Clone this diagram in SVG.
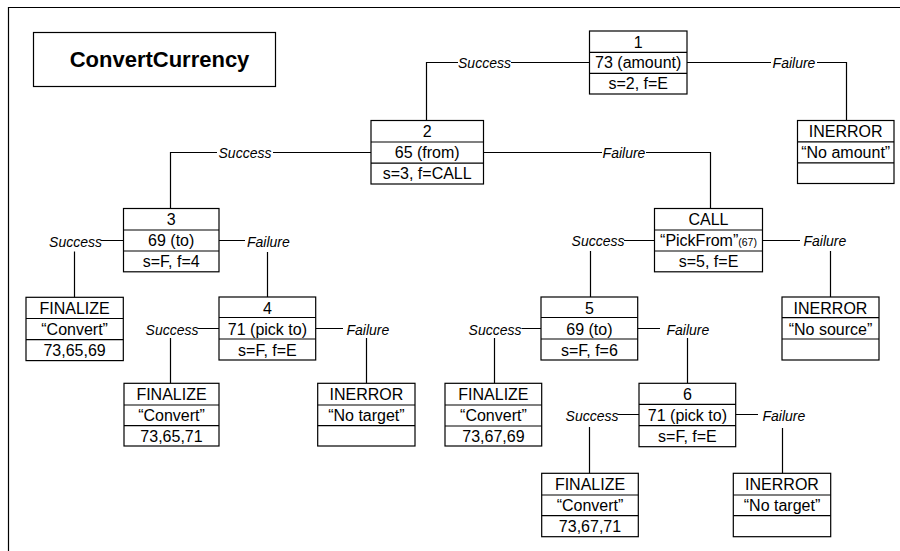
<svg xmlns="http://www.w3.org/2000/svg" width="900" height="551" viewBox="0 0 900 551">
<style>
.box{fill:#fff;stroke:#000;stroke-width:1.2}
.row{stroke:#000;stroke-width:1.2}
.t{font-family:"Liberation Sans",Arial,sans-serif;font-size:16px;fill:#000;text-anchor:middle}
.lbl{font-family:"Liberation Sans",Arial,sans-serif;font-size:14px;font-style:italic;fill:#000}
.c{fill:none;stroke:#000;stroke-width:1.2}
.title{font-family:"Liberation Sans",Arial,sans-serif;font-size:22px;font-weight:bold;fill:#000;text-anchor:middle}
</style>
<rect width="900" height="551" fill="#fff"/>
<path d="M8.5,551 V7.5 H900" fill="none" stroke="#000" stroke-width="1.2"/>
<g id="title">
<rect x="33.5" y="32.5" width="242" height="54" class="box"/>
<text x="159.5" y="66.5" class="title">ConvertCurrency</text>
</g>
<g id="connectors">
<path class="c" d="M589,62.5 H511 M458,62.5 H426.5 V120"/>
<text class="lbl" x="484.5" y="67.5" text-anchor="middle">Success</text>
<path class="c" d="M687,62.5 H771 M817,62.5 H846.5 V120"/>
<text class="lbl" x="794" y="67.5" text-anchor="middle">Failure</text>
<path class="c" d="M371,152.5 H273 M217,152.5 H170.5 V208"/>
<text class="lbl" x="245" y="157.5" text-anchor="middle">Success</text>
<path class="c" d="M483,152.5 H602 M646,152.5 H710.5 V208"/>
<text class="lbl" x="624" y="157.5" text-anchor="middle">Failure</text>
<path class="c" d="M123,240.5 H101 M74.5,251.5 V297"/>
<text class="lbl" x="102" y="247" text-anchor="end">Success</text>
<path class="c" d="M219,240.5 H245 M267.5,252 V297"/>
<text class="lbl" x="247" y="247">Failure</text>
<path class="c" d="M219,328.5 H198 M170.5,338 V383"/>
<text class="lbl" x="198.5" y="334.5" text-anchor="end">Success</text>
<path class="c" d="M315.5,328.5 H343 M366.5,338 V383"/>
<text class="lbl" x="346.5" y="334.5">Failure</text>
<path class="c" d="M654,240.5 H624 M590.5,251 V297"/>
<text class="lbl" x="624.5" y="246" text-anchor="end">Success</text>
<path class="c" d="M762.5,240.5 H800 M830.5,251 V297"/>
<text class="lbl" x="803.5" y="246">Failure</text>
<path class="c" d="M541,328.5 H521.5 M494.5,338 V383"/>
<text class="lbl" x="521.5" y="334.5" text-anchor="end">Success</text>
<path class="c" d="M637.5,328.5 H660 M687.5,338 V383"/>
<text class="lbl" x="666.5" y="334.5">Failure</text>
<path class="c" d="M639,414.5 H618 M589.5,427 V473"/>
<text class="lbl" x="618.5" y="421" text-anchor="end">Success</text>
<path class="c" d="M735.5,414.5 H758 M782.5,428 V473"/>
<text class="lbl" x="762.5" y="421">Failure</text>
</g>
<g id="n1">
<rect x="589.5" y="31" width="97.5" height="63" class="box"/>
<path class="row" d="M589.5,52.3 H687 M589.5,73.3 H687"/>
<text class="t" x="638.2" y="47.5">1</text>
<text class="t" x="638.2" y="68.3">73 (amount)</text>
<text class="t" x="638.2" y="89.3">s=2, f=E</text>
</g>
<g id="inerror1">
<rect x="797.5" y="120.5" width="96.5" height="63" class="box"/>
<path class="row" d="M797.5,141.8 H894 M797.5,162.8 H894"/>
<text class="t" x="845.7" y="137">INERROR</text>
<text class="t" x="845.7" y="158">“No amount”</text>
</g>
<g id="n2">
<rect x="371" y="120.5" width="112.5" height="63.5" class="box"/>
<path class="row" d="M371,142 H483.5 M371,163.2 H483.5"/>
<text class="t" x="427.2" y="137">2</text>
<text class="t" x="427.2" y="158">65 (from)</text>
<text class="t" x="427.2" y="179">s=3, f=CALL</text>
</g>
<g id="n3">
<rect x="123.5" y="208.5" width="95.5" height="63.3" class="box"/>
<path class="row" d="M123.5,230 H219 M123.5,251 H219"/>
<text class="t" x="171.2" y="225">3</text>
<text class="t" x="171.2" y="246">69 (to)</text>
<text class="t" x="171.2" y="267">s=F, f=4</text>
</g>
<g id="call">
<rect x="654.5" y="208.5" width="108" height="63.3" class="box"/>
<path class="row" d="M654.5,230 H762.5 M654.5,251 H762.5"/>
<text class="t" x="708.5" y="225">CALL</text>
<text class="t" x="708.5" y="246">“PickFrom”<tspan font-size="10.5">(67)</tspan></text>
<text class="t" x="708.5" y="267">s=5, f=E</text>
</g>
<g id="finalize1">
<rect x="26" y="297.3" width="97.3" height="63.3" class="box"/>
<path class="row" d="M26,318.5 H123.3 M26,339.6 H123.3"/>
<text class="t" x="74.6" y="313.8">FINALIZE</text>
<text class="t" x="74.6" y="334.8">“Convert”</text>
<text class="t" x="74.6" y="355.8">73,65,69</text>
</g>
<g id="n4">
<rect x="219" y="297" width="96.7" height="63" class="box"/>
<path class="row" d="M219,317.5 H315.7 M219,339 H315.7"/>
<text class="t" x="267.4" y="313.5">4</text>
<text class="t" x="267.4" y="334.5">71 (pick to)</text>
<text class="t" x="267.4" y="355.5">s=F, f=E</text>
</g>
<g id="n5">
<rect x="541" y="297" width="96.7" height="63" class="box"/>
<path class="row" d="M541,317.5 H637.7 M541,339 H637.7"/>
<text class="t" x="589.4" y="313.5">5</text>
<text class="t" x="589.4" y="334.5">69 (to)</text>
<text class="t" x="589.4" y="355.5">s=F, f=6</text>
</g>
<g id="inerror2">
<rect x="782" y="297" width="97" height="63" class="box"/>
<path class="row" d="M782,317.7 H879 M782,339 H879"/>
<text class="t" x="830.5" y="313.5">INERROR</text>
<text class="t" x="830.5" y="334.5">“No source”</text>
</g>
<g id="finalize2">
<rect x="124" y="383.3" width="95" height="62.7" class="box"/>
<path class="row" d="M124,405 H219 M124,425.7 H219"/>
<text class="t" x="171.5" y="400">FINALIZE</text>
<text class="t" x="171.5" y="421">“Convert”</text>
<text class="t" x="171.5" y="442">73,65,71</text>
</g>
<g id="inerror3">
<rect x="317.7" y="383.3" width="97.3" height="62.7" class="box"/>
<path class="row" d="M317.7,405 H415 M317.7,425.7 H415"/>
<text class="t" x="366.4" y="400">INERROR</text>
<text class="t" x="366.4" y="421">“No target”</text>
</g>
<g id="finalize3">
<rect x="445" y="383.3" width="96.7" height="62.7" class="box"/>
<path class="row" d="M445,405 H541.7 M445,426 H541.7"/>
<text class="t" x="493.4" y="400">FINALIZE</text>
<text class="t" x="493.4" y="421">“Convert”</text>
<text class="t" x="493.4" y="442">73,67,69</text>
</g>
<g id="n6">
<rect x="639" y="383.3" width="96.7" height="63.4" class="box"/>
<path class="row" d="M639,404.3 H735.7 M639,425.7 H735.7"/>
<text class="t" x="687.4" y="400">6</text>
<text class="t" x="687.4" y="421">71 (pick to)</text>
<text class="t" x="687.4" y="442">s=F, f=E</text>
</g>
<g id="finalize4">
<rect x="541.7" y="473.3" width="96.6" height="63.4" class="box"/>
<path class="row" d="M541.7,495 H638.3 M541.7,515.7 H638.3"/>
<text class="t" x="590" y="490">FINALIZE</text>
<text class="t" x="590" y="511">“Convert”</text>
<text class="t" x="590" y="532">73,67,71</text>
</g>
<g id="inerror4">
<rect x="733.3" y="473.3" width="97.4" height="63.4" class="box"/>
<path class="row" d="M733.3,495 H830.7 M733.3,515.7 H830.7"/>
<text class="t" x="782" y="490">INERROR</text>
<text class="t" x="782" y="511">“No target”</text>
</g>
</svg>
